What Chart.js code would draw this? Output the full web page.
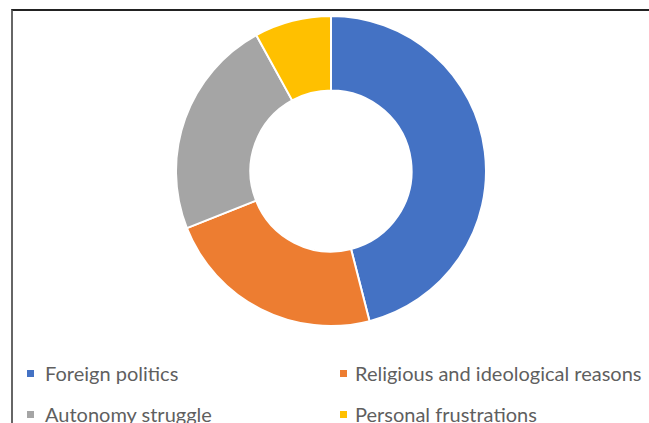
<!DOCTYPE html>
<html>
<head>
<meta charset="utf-8">
<script src="https://cdn.jsdelivr.net/npm/chart.js@4.4.0/dist/chart.umd.min.js"></script>
<style>
    html, body { margin: 0; padding: 0; background: #fff; }
    body { width: 649px; height: 423px; overflow: hidden; position: relative; font-family: Lato, "Open Sans", sans-serif; }
    #frame { position: absolute; left: 11px; top: 9px; width: 660px; height: 440px; border-top: 2px solid #222; border-left: 2px solid #666; }
    #donutBox { position: absolute; left: 175px; top: 15px; width: 312px; height: 312px; }
    #legend { position: absolute; left: 0; top: 0; }
    .swatch { position: absolute; width: 7px; height: 7px; }
    .legend-text { position: absolute; white-space: nowrap; color: #5f5f5f; font-size: 20px; line-height: 20px; }
</style>
</head>
<body>
<div id="frame"></div>
<div id="donutBox"><canvas id="donut"></canvas></div>
<div id="legend"></div>

<script>
// Reasons and their shares (percent)
var reasons = ['Foreign politics', 'Religious and ideological reasons', 'Autonomy struggle', 'Personal frustrations'];
var shares = [46, 23, 23, 8];
var sliceColors = ['#4472C4', '#ED7D31', '#A5A5A5', '#FFC000'];

// Legend slots: two columns, two rows (swatch x, text x, row top)
var legendSlots = [
    { box: 27, text: 45, top: 363 },
    { box: 340, text: 355, top: 363 },
    { box: 27, text: 45, top: 404 },
    { box: 340, text: 355, top: 404 }
];

var chart = new Chart(document.getElementById('donut'), {
    type: 'doughnut',
    data: {
        labels: reasons,
        datasets: [{
            data: shares,
            backgroundColor: sliceColors,
            borderColor: '#ffffff',
            borderWidth: 2,
            hoverOffset: 0
        }]
    },
    options: {
        responsive: true,
        maintainAspectRatio: false,
        animation: false,
        cutout: '52%',
        rotation: 0,
        layout: { padding: 0 },
        plugins: {
            legend: { display: false },
            tooltip: { enabled: false }
        }
    }
});

// Build the legend from the chart's own labels and colours
function buildLegend(chart) {
    var box = document.getElementById('legend');
    var ds = chart.data.datasets[0];
    chart.data.labels.forEach(function (label, i) {
        var slot = legendSlots[i];
        var sw = document.createElement('div');
        sw.className = 'swatch';
        sw.style.left = slot.box + 'px';
        sw.style.top = (slot.top + 7) + 'px';
        sw.style.background = ds.backgroundColor[i];
        box.appendChild(sw);

        var txt = document.createElement('div');
        txt.className = 'legend-text';
        txt.style.left = slot.text + 'px';
        txt.style.top = slot.top + 'px';
        txt.textContent = label;
        box.appendChild(txt);
    });
}

buildLegend(chart);
</script>
</body>
</html>
